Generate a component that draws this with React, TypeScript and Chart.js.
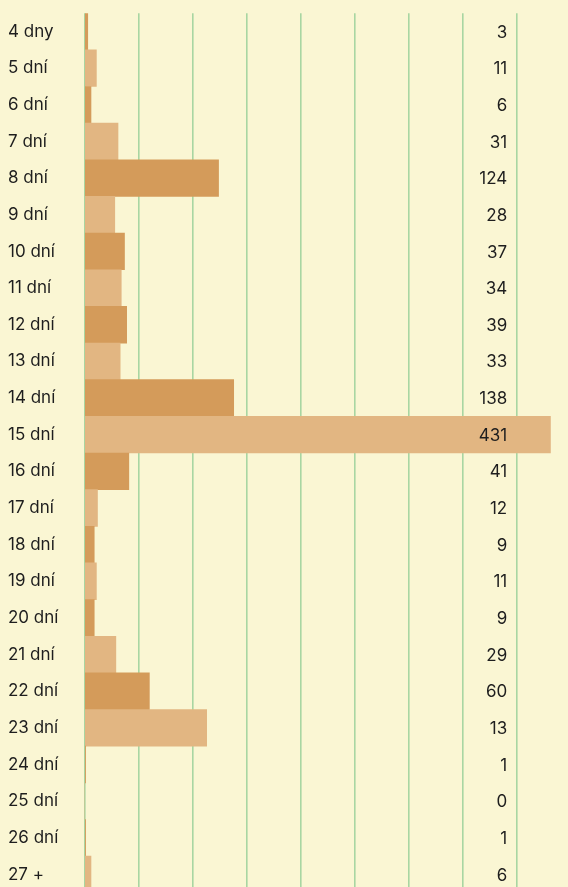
import React, { useEffect, useRef } from "react";
import { Chart, registerables } from "chart.js";

Chart.register(...registerables);

const categories = [
  "4 dny", "5 dní", "6 dní", "7 dní", "8 dní", "9 dní", "10 dní", "11 dní",
  "12 dní", "13 dní", "14 dní", "15 dní", "16 dní", "17 dní", "18 dní", "19 dní",
  "20 dní", "21 dní", "22 dní", "23 dní", "24 dní", "25 dní", "26 dní", "27 +",
];
const barValues = [3, 11, 6, 31, 124, 28, 37, 34, 39, 33, 138, 431, 41, 12, 9, 11, 9, 29, 60, 113, 1, 0, 1, 6];
const valueLabels = ["3", "11", "6", "31", "124", "28", "37", "34", "39", "33", "138", "431", "41", "12", "9", "11", "9", "29", "60", "13", "1", "0", "1", "6"];

const BG = "#faf6d3";
const DARK = "#d49b5a";
const LIGHT = "#e2b682";
const GRID = "#a8d6a2";
const TEXT = "#1e1e1e";
const FONT = "Inter, 'Noto Sans', sans-serif";

export default function App() {
  const ref = useRef<HTMLCanvasElement | null>(null);

  useEffect(() => {
    document.documentElement.style.overflow = "hidden";
    document.body.style.overflow = "hidden";
    document.documentElement.style.background = BG;
    document.body.style.background = BG;
    if (!ref.current) return;

    const labelPlugin = {
      id: "valueLabels",
      afterDatasetsDraw(chart: any) {
        const ctx = chart.ctx;
        const xs = chart.scales.x;
        const ys = chart.scales.y;
        ctx.save();
        ctx.font = `17px ${FONT}`;
        ctx.fillStyle = TEXT;
        ctx.textAlign = "right";
        ctx.textBaseline = "middle";
        valueLabels.forEach((t, i) => {
          ctx.fillText(t, xs.getPixelForValue(391), ys.getPixelForValue(i) + 1);
        });
        ctx.restore();
      },
    };

    const chart = new Chart(ref.current, {
      type: "bar",
      data: {
        labels: categories,
        datasets: [
          {
            data: barValues,
            backgroundColor: barValues.map((_, i) => (i % 2 === 0 ? DARK : LIGHT)),
            barPercentage: 1,
            categoryPercentage: 1,
            borderWidth: 0,
          },
        ],
      },
      options: {
        indexAxis: "y",
        animation: false,
        responsive: false,
        devicePixelRatio: 1,
        layout: { padding: 0 },
        plugins: { legend: { display: false }, tooltip: { enabled: false } },
        scales: {
          x: {
            min: 0,
            max: 450,
            ticks: { display: false, stepSize: 50 },
            grid: { color: GRID, lineWidth: 1.6, drawTicks: false },
            border: { display: false },
          },
          y: {
            ticks: {
              color: TEXT,
              font: { family: FONT, size: 17 },
              crossAlign: "far",
              padding: 0,
            },
            grid: { display: false, drawTicks: false },
            border: { display: false },
            afterFit(scale: any) {
              scale.width = 76.5;
            },
          },
        },
      },
      plugins: [labelPlugin],
    } as any);

    return () => chart.destroy();
  }, []);

  return (
    <div style={{ width: 560, height: 879, overflow: "hidden", background: BG }}>
      <canvas ref={ref} width={563} height={900} style={{ display: "block", marginTop: -5 }} />
    </div>
  );
}
